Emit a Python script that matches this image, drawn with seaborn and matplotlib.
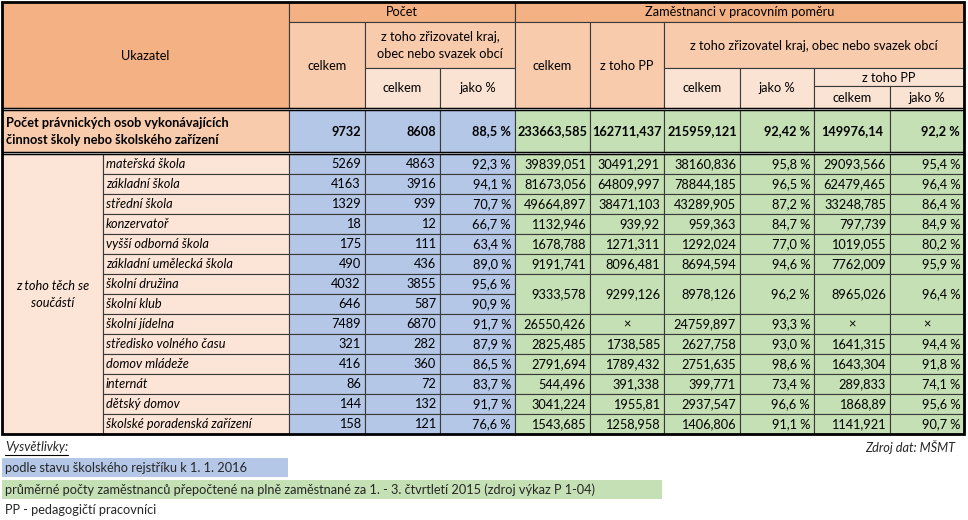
import matplotlib
matplotlib.use("Agg")
import matplotlib.pyplot as plt
import seaborn as sns
from matplotlib.patches import Rectangle

# ==============================
# data
# ==============================
categories = ["mateřská škola", "základní škola", "střední škola", "konzervatoř",
              "vyšší odborná škola", "základní umělecká škola", "školní družina",
              "školní klub", "školní jídelna", "středisko volného času",
              "domov mládeže", "internát", "dětský domov", "školské poradenská zařízení"]
pocet_celkem = [5269, 4163, 1329, 18, 175, 490, 4032, 646, 7489, 321, 416, 86, 144, 158]
pocet_zriz = [4863, 3916, 939, 12, 111, 436, 3855, 587, 6870, 282, 360, 72, 132, 121]
pocet_pct = [92.3, 94.1, 70.7, 66.7, 63.4, 89.0, 95.6, 90.9, 91.7, 87.9, 86.5, 83.7, 91.7, 76.6]

# employees: družina + klub share one merged row
zam_span = [1, 1, 1, 1, 1, 1, 2, 1, 1, 1, 1, 1, 1]
zam_celkem = [39839.051, 81673.056, 49664.897, 1132.946, 1678.788, 9191.741, 9333.578,
              26550.426, 2825.485, 2791.694, 544.496, 3041.224, 1543.685]
zam_pp = [30491.291, 64809.997, 38471.103, 939.92, 1271.311, 8096.481, 9299.126,
          None, 1738.585, 1789.432, 391.338, 1955.81, 1258.958]
zam_zriz = [38160.836, 78844.185, 43289.905, 959.363, 1292.024, 8694.594, 8978.126,
            24759.897, 2627.758, 2751.635, 399.771, 2937.547, 1406.806]
zam_zriz_pct = [95.8, 96.5, 87.2, 84.7, 77.0, 94.6, 96.2, 93.3, 93.0, 98.6, 73.4, 96.6, 91.1]
zam_zriz_pp = [29093.566, 62479.465, 33248.785, 797.739, 1019.055, 7762.009, 8965.026,
               None, 1641.315, 1643.304, 289.833, 1868.89, 1141.921]
zam_zriz_pp_pct = [95.4, 96.4, 86.4, 84.9, 80.2, 95.9, 96.4, None, 94.4, 91.8, 74.1, 95.6, 90.7]

total_label = "Počet právnických osob vykonávajících\nčinnost školy nebo školského zařízení"
total_pocet = [9732, 8608, 88.5]
total_zam = [233663.585, 162711.437, 215959.121, 92.42, 149976.14, 92.2]

# ==============================
# style
# ==============================
sns.set_theme(style="white")
plt.rcParams['font.family'] = ['Lato', 'DejaVu Sans']

DARK = "#F4B183"
MED = "#F8CBAD"
LIGHT = "#FBE3D4"
LABEL = "#FCE4D6"
BLUE = "#B4C7E7"
GREEN = "#C5E0B4"
LINE = "#3a3a3a"
FS = 9.2

col_x = [2, 103, 289, 365, 440, 515, 590, 664, 740, 814, 890, 964]
y_head = [2, 22, 68, 86, 108]
y_total = (110, 152)
y_body0, row_h = 154, 20


def num(v):
    if v is None:
        return "×"
    s = f"{v:.3f}".rstrip("0").rstrip(".")
    return s.replace(".", ",")


def pct(v, fmt="{:.1f}"):
    if v is None:
        return "×"
    return fmt.format(v).replace(".", ",") + " %"


fig = plt.figure(figsize=(9.68, 5.2), dpi=100)
ax = fig.add_axes([0, 0, 1, 1])
ax.set_xlim(0, 968)
ax.set_ylim(520, 0)
ax.axis("off")


def cell(x0, x1, y0, y1, color, text="", ha="center", bold=False, italic=False, pad=4, lw=0.8):
    ax.add_patch(Rectangle((x0, y0), x1 - x0, y1 - y0, facecolor=color,
                           edgecolor=LINE, linewidth=lw))
    if text == "":
        return
    if text == "×":
        ha = "center"
    tx = {"center": (x0 + x1) / 2, "left": x0 + pad, "right": x1 - pad}[ha]
    ax.text(tx, (y0 + y1) / 2 + 0.5, text, ha=ha, va="center", fontsize=FS,
            fontweight="bold" if bold else "normal",
            fontstyle="italic" if italic else "normal",
            linespacing=1.45, color="black")


# header
cell(col_x[0], col_x[2], y_head[0], y_head[4], DARK, "Ukazatel")
cell(col_x[2], col_x[5], y_head[0], y_head[1], DARK, "Počet")
cell(col_x[5], col_x[11], y_head[0], y_head[1], DARK, "Zaměstnanci v pracovním poměru")
cell(col_x[2], col_x[3], y_head[1], y_head[4], MED, "celkem")
cell(col_x[3], col_x[5], y_head[1], y_head[2], MED, "z toho zřizovatel kraj,\nobec nebo svazek obcí")
cell(col_x[3], col_x[4], y_head[2], y_head[4], LIGHT, "celkem")
cell(col_x[4], col_x[5], y_head[2], y_head[4], LIGHT, "jako %")
cell(col_x[5], col_x[6], y_head[1], y_head[4], MED, "celkem")
cell(col_x[6], col_x[7], y_head[1], y_head[4], MED, "z toho PP")
cell(col_x[7], col_x[11], y_head[1], y_head[2], MED, "z toho zřizovatel kraj, obec nebo svazek obcí")
cell(col_x[7], col_x[8], y_head[2], y_head[4], LIGHT, "celkem")
cell(col_x[8], col_x[9], y_head[2], y_head[4], LIGHT, "jako %")
cell(col_x[9], col_x[11], y_head[2], y_head[3], LIGHT, "z toho PP")
cell(col_x[9], col_x[10], y_head[3], y_head[4], LIGHT, "celkem")
cell(col_x[10], col_x[11], y_head[3], y_head[4], LIGHT, "jako %")

# total row
t0, t1 = y_total
cell(col_x[0], col_x[2], t0, t1, MED, total_label, ha="left", bold=True)
cell(col_x[2], col_x[3], t0, t1, BLUE, num(total_pocet[0]), ha="right", bold=True)
cell(col_x[3], col_x[4], t0, t1, BLUE, num(total_pocet[1]), ha="right", bold=True)
cell(col_x[4], col_x[5], t0, t1, BLUE, pct(total_pocet[2], "{:g}"), ha="right", bold=True)
tot_txt = [num(total_zam[0]), num(total_zam[1]), num(total_zam[2]),
           pct(total_zam[3], "{:g}"), num(total_zam[4]), pct(total_zam[5], "{:g}")]
tot_ha = ["center", "center", "center", "right", "center", "right"]
for j, (txt, ha) in enumerate(zip(tot_txt, tot_ha)):
    cell(col_x[5 + j], col_x[6 + j], t0, t1, GREEN, txt, ha=ha, bold=True)

# body: labels and Počet
n = len(categories)
y_end = y_body0 + n * row_h
cell(col_x[0], col_x[1], y_body0, y_end, LABEL, "z toho těch se\nsoučástí", italic=True)
for i, name in enumerate(categories):
    y0 = y_body0 + i * row_h
    cell(col_x[1], col_x[2], y0, y0 + row_h, LABEL, name, ha="left", italic=True, pad=3)
    cell(col_x[2], col_x[3], y0, y0 + row_h, BLUE, num(pocet_celkem[i]), ha="right")
    cell(col_x[3], col_x[4], y0, y0 + row_h, BLUE, num(pocet_zriz[i]), ha="right")
    cell(col_x[4], col_x[5], y0, y0 + row_h, BLUE, pct(pocet_pct[i]), ha="right")

# body: employees
y0 = y_body0
for i, span in enumerate(zam_span):
    y1 = y0 + span * row_h
    vals = [num(zam_celkem[i]), num(zam_pp[i]), num(zam_zriz[i]),
            pct(zam_zriz_pct[i]), num(zam_zriz_pp[i]), pct(zam_zriz_pp_pct[i])]
    for j, txt in enumerate(vals):
        cell(col_x[5 + j], col_x[6 + j], y0, y1, GREEN, txt, ha="right")
    y0 = y1

# heavy borders and double lines
for yy in (y_head[4], t0, t1, y_body0):
    ax.plot([col_x[0], col_x[-1]], [yy, yy], color="black", lw=1.0, solid_capstyle="butt")
ax.add_patch(Rectangle((col_x[0], y_head[0]), col_x[-1] - col_x[0], y_end - y_head[0],
                       fill=False, edgecolor="black", linewidth=2.0))

# footer
vt = ax.text(5, 447, "Vysvětlivky:", ha="left", va="center", fontsize=FS, fontstyle="italic")
ax.text(955, 447, "Zdroj dat: MŠMT", ha="right", va="center", fontsize=FS, fontstyle="italic")
fig.canvas.draw()
bb = vt.get_window_extent().transformed(ax.transData.inverted())
ax.plot([bb.x0, bb.x1], [455, 455], color="black", lw=0.8)

ax.add_patch(Rectangle((2, 458), 286, 19, facecolor=BLUE, edgecolor="none"))
ax.text(5, 467.5, "podle stavu školského rejstříku k 1. 1. 2016", ha="left", va="center", fontsize=FS)
ax.add_patch(Rectangle((2, 480), 660, 19, facecolor=GREEN, edgecolor="none"))
ax.text(5, 489.5, "průměrné počty zaměstnanců přepočtené na plně zaměstnané za 1. - 3. čtvrtletí 2015 (zdroj výkaz P 1-04)",
        ha="left", va="center", fontsize=FS)
ax.text(5, 510, "PP - pedagogičtí pracovníci", ha="left", va="center", fontsize=FS)

fig.savefig("out.png", dpi=100)
